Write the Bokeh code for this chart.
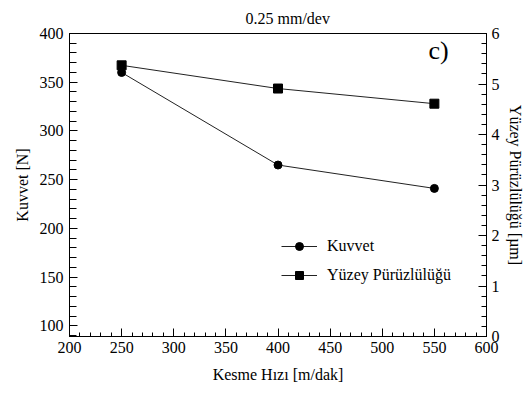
from bokeh.plotting import figure
from bokeh.models import (Range1d, LinearAxis, SingleIntervalTicker, Legend, LegendItem,
                          Label, Title)
from bokeh.embed import file_html
from bokeh.resources import INLINE

speed = [250, 400, 550]
force = [360, 265, 241]
roughness = [5.37, 4.91, 4.61]

title_text = "0.25 mm/dev"
x_label = "Kesme Hızı [m/dak]"
y_label = "Kuvvet [N]"
y2_label = "Yüzey Pürüzlülüğü [µm]"
panel_tag = "c)"

FONT = "Liberation Serif"

p = figure(width=526, height=395, output_backend="svg", toolbar_location=None,
           x_range=Range1d(200, 600), y_range=Range1d(89, 400),
           min_border_left=69, min_border_right=40, min_border_top=33, min_border_bottom=59)
p.extra_y_ranges = {"r": Range1d(0, 6)}
p.grid.visible = False
p.outline_line_color = "black"
p.outline_line_width = 1
p.background_fill_color = "white"
p.border_fill_color = "white"

t = Title(text=title_text, align="left", offset=176, text_font=FONT, vertical_align="top",
          text_font_size="16px", text_font_style="normal", text_color="black")
p.add_layout(t, "above")

xa = p.xaxis[0]
xa.ticker = SingleIntervalTicker(interval=50, num_minor_ticks=5)
ya = p.yaxis[0]
ya.ticker = SingleIntervalTicker(interval=50, num_minor_ticks=5)
ra = LinearAxis(y_range_name="r", ticker=SingleIntervalTicker(interval=1, num_minor_ticks=5))
p.add_layout(ra, "right")

for ax, lab in ((xa, x_label), (ya, y_label), (ra, y2_label)):
    ax.axis_label = lab
    ax.axis_label_text_font = FONT
    ax.axis_label_text_font_size = "16px"
    ax.axis_label_text_font_style = "normal"
    ax.axis_label_text_color = "black"
    ax.major_label_text_font = FONT
    ax.major_label_text_font_size = "16px"
    ax.major_label_text_color = "black"
    ax.axis_line_color = "black"
    ax.major_tick_line_color = "black"
    ax.minor_tick_line_color = "black"
    ax.major_tick_out = 0
    ax.major_tick_in = 8
    ax.minor_tick_out = 0

xa.minor_tick_in = 4
ya.minor_tick_in = 7
ra.minor_tick_in = 5
xa.major_label_standoff = 5
xa.axis_label_standoff = 10
ya.major_label_standoff = 6
ya.axis_label_standoff = 6
ra.major_label_standoff = 5
ra.axis_label_standoff = 4

l1 = p.line(speed, force, line_color="#222222", line_width=1)
s1 = p.scatter(speed, force, marker="circle", size=8, fill_color="black", line_color="black")
l2 = p.line(speed, roughness, y_range_name="r", line_color="#222222", line_width=1)
s2 = p.scatter(speed, roughness, y_range_name="r", marker="square", size=9,
               fill_color="black", line_color="black")

legend = Legend(items=[LegendItem(label="Kuvvet", renderers=[l1, s1]),
                       LegendItem(label="Yüzey Pürüzlülüğü", renderers=[l2, s2])],
                location=(212, 51), padding=0, margin=0, spacing=9,
                glyph_width=36, glyph_height=20, label_height=20, label_standoff=10,
                label_text_font=FONT, label_text_font_size="16px", label_text_color="black",
                border_line_color=None, background_fill_alpha=0)
p.add_layout(legend, "center")

p.add_layout(Label(x=359, y=272, x_units="screen", y_units="screen", text=panel_tag,
                   text_font=FONT, text_font_size="26px", text_color="black"))

open("out.html", "w").write(file_html(p, INLINE))
